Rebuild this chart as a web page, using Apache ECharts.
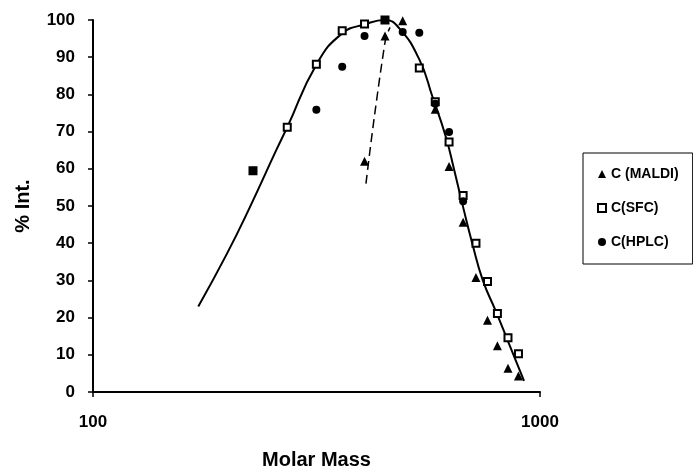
<!DOCTYPE html>
<html>
<head>
<meta charset="utf-8">
<script src="https://cdn.jsdelivr.net/npm/echarts@6/dist/echarts.min.js"></script>
<style>
  html, body { margin: 0; padding: 0; background: #fff; }
  #chart { width: 693px; height: 467px; }
</style>
</head>
<body>
<div id="chart"></div>
<script>
// C (MALDI) - filled triangles
let massMaldi = [405, 450, 493, 583, 626, 673, 719, 763, 803, 848, 895];
let intMaldi = [62, 95.7, 99.8, 76, 60.6, 45.6, 30.8, 19.3, 12.4, 6.4, 4.3];

// C(SFC) - open squares
let massSfc = [228, 272, 316, 361, 405, 450, 537, 583, 626, 673, 719, 763, 803, 848, 895];
let intSfc = [59.5, 71.2, 88.1, 97.1, 98.9, 100, 87.1, 78, 67.2, 52.8, 40, 29.7, 21.1, 14.6, 10.3];

// C(HPLC) - filled circles
let massHplc = [228, 316, 361, 405, 450, 493, 537, 583, 626, 673];
let intHplc = [59.5, 75.9, 87.4, 95.7, 100, 96.8, 96.6, 77.5, 69.9, 51.3];

// solid fitted curve
let fitMass = [172, 199, 224, 257, 272, 316, 361, 405, 450, 484, 537, 575, 616, 643, 673, 706, 745, 796, 853, 921];
let fitInt = [23, 37, 49.5, 65, 71.2, 88, 96.4, 98.8, 100, 97.8, 89.4, 79.3, 68.5, 59.6, 49.7, 39.8, 30, 21.8, 12.9, 3];

// dashed segment
let dashMass = [408, 450, 462];
let dashInt = [56, 94, 98];

let font = 'Liberation Sans, Arial, sans-serif';

function pairs(xs, ys) {
    let out = [];
    for (let i = 0; i < xs.length; i++) out.push([xs[i], ys[i]]);
    return out;
}

let option = {
    animation: false,
    backgroundColor: '#fff',
    grid: {
        left: 93,
        right: 153,
        top: 20,
        bottom: 75,
        containLabel: false,
        outerBoundsMode: 'none'
    },
    legend: {
        data: ['C (MALDI)', 'C(SFC)', 'C(HPLC)'],
        orient: 'vertical',
        left: 583,
        top: 153,
        padding: [14, 14, 15, 14],
        itemGap: 20,
        itemWidth: 8,
        itemHeight: 8,
        borderColor: '#000',
        borderWidth: 1,
        textStyle: {
            color: '#000',
            fontFamily: font,
            fontWeight: 'bold',
            fontSize: 14
        }
    },
    xAxis: {
        type: 'log',
        logBase: 10,
        min: 100,
        max: 1000,
        name: 'Molar Mass',
        nameLocation: 'middle',
        nameGap: 58,
        nameTextStyle: {
            color: '#000',
            fontFamily: font,
            fontWeight: 'bold',
            fontSize: 20
        },
        axisLine: {show: true, onZero: false, lineStyle: {color: '#000', width: 2}},
        axisTick: {show: true, length: 5, lineStyle: {color: '#000', width: 1.5}},
        axisLabel: {
            margin: 22,
            color: '#000',
            fontFamily: font,
            fontWeight: 'bold',
            fontSize: 17,
            formatter: v => String(Math.round(v))
        },
        splitLine: {show: false},
        minorTick: {show: false}
    },
    yAxis: {
        type: 'value',
        min: 0,
        max: 100,
        interval: 10,
        name: '% Int.',
        nameLocation: 'middle',
        nameGap: 60,
        nameTextStyle: {
            color: '#000',
            fontFamily: font,
            fontWeight: 'bold',
            fontSize: 20
        },
        axisLine: {show: true, onZero: false, lineStyle: {color: '#000', width: 2}},
        axisTick: {show: true, length: 5, lineStyle: {color: '#000', width: 1.5}},
        axisLabel: {
            margin: 18,
            color: '#000',
            fontFamily: font,
            fontWeight: 'bold',
            fontSize: 17
        },
        splitLine: {show: false}
    },
    series: [{
        name: 'fit',
        type: 'line',
        smooth: true,
        showSymbol: false,
        data: pairs(fitMass, fitInt),
        lineStyle: {color: '#000', width: 2},
        z: 1
    }, {
        name: 'dash',
        type: 'line',
        smooth: true,
        showSymbol: false,
        data: pairs(dashMass, dashInt),
        lineStyle: {color: '#000', width: 1.5, type: [9, 5]},
        z: 1
    }, {
        name: 'C (MALDI)',
        type: 'scatter',
        symbol: 'triangle',
        symbolSize: 9,
        data: pairs(massMaldi, intMaldi),
        itemStyle: {color: '#000', opacity: 1},
        z: 3
    }, {
        name: 'C(SFC)',
        type: 'scatter',
        symbol: 'rect',
        symbolSize: 7,
        data: pairs(massSfc, intSfc),
        itemStyle: {color: '#fff', borderColor: '#000', borderWidth: 2, opacity: 1},
        z: 2
    }, {
        name: 'C(HPLC)',
        type: 'scatter',
        symbol: 'circle',
        symbolSize: 8,
        data: pairs(massHplc, intHplc),
        itemStyle: {color: '#000', opacity: 1},
        z: 4
    }]
};

echarts.init(document.getElementById('chart')).setOption(option);
</script>
</body>
</html>
